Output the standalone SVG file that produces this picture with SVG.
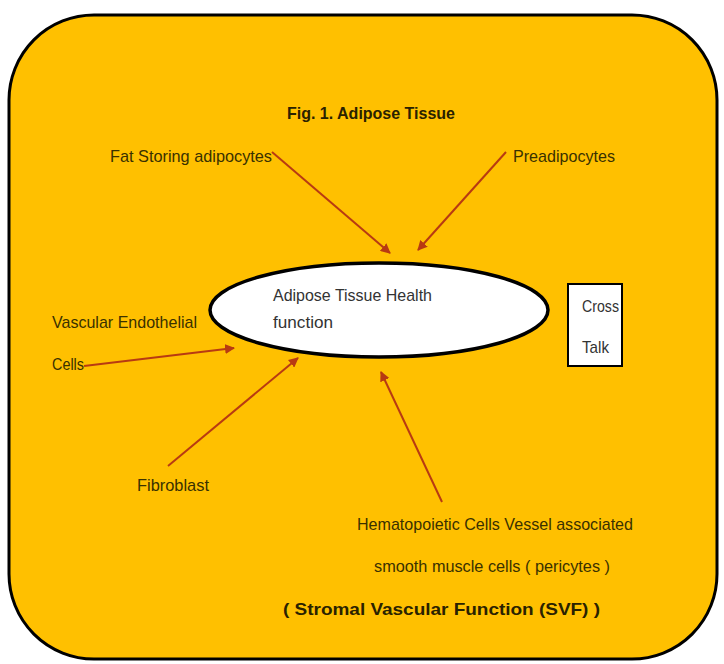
<svg xmlns="http://www.w3.org/2000/svg" width="724" height="664" viewBox="0 0 724 664">
<defs>
<marker id="ah" viewBox="0 0 10 10" refX="9" refY="5" markerWidth="5" markerHeight="5" orient="auto" markerUnits="strokeWidth">
<path d="M0,0 L10,5 L0,10 z" fill="#B83A12"/>
</marker>
<style>
.lbl{font-family:"Liberation Sans",Arial,sans-serif;font-size:17px;fill:#3a3100;}
.in{fill:#333333;}
.bold{font-weight:bold;fill:#2a2200;}
.conn line{stroke:#B83A12;stroke-width:2;marker-end:url(#ah);}
</style>
</defs>
<rect width="724" height="664" fill="#ffffff"/>
<g id="frame">
<rect x="9" y="15" width="708" height="644" rx="85" ry="85" fill="#FFC000" stroke="#000" stroke-width="3"/>
</g>
<g id="title">
<text class="lbl bold" x="287" y="119" font-size="19" textLength="168" lengthAdjust="spacingAndGlyphs">Fig. 1. Adipose Tissue</text>
</g>
<g class="conn" id="connectors">
<line x1="272" y1="152" x2="390" y2="253"/>
<line x1="506" y1="152" x2="418" y2="250"/>
<line x1="84" y1="366" x2="234" y2="348"/>
<line x1="168" y1="466" x2="298" y2="358"/>
<line x1="442" y1="502" x2="381" y2="372"/>
</g>
<g id="center">
<ellipse cx="379" cy="310" rx="169" ry="47" fill="#ffffff" stroke="#000" stroke-width="3.5"/>
<text class="lbl in" x="273" y="301" textLength="159" lengthAdjust="spacingAndGlyphs">Adipose Tissue Health</text>
<text class="lbl in" x="273" y="328" textLength="60" lengthAdjust="spacingAndGlyphs">function</text>
</g>
<g id="crosstalk">
<rect x="568" y="284" width="54" height="82" fill="#ffffff" stroke="#000" stroke-width="2"/>
<text class="lbl in" x="582" y="312" textLength="37" lengthAdjust="spacingAndGlyphs">Cross</text>
<text class="lbl in" x="582" y="353" textLength="27" lengthAdjust="spacingAndGlyphs">Talk</text>
</g>
<g id="fat">
<text class="lbl" x="110" y="162" textLength="162" lengthAdjust="spacingAndGlyphs">Fat Storing adipocytes</text>
</g>
<g id="pre">
<text class="lbl" x="513" y="162" textLength="102" lengthAdjust="spacingAndGlyphs">Preadipocytes</text>
</g>
<g id="vascular">
<text class="lbl" x="52" y="328" textLength="145" lengthAdjust="spacingAndGlyphs">Vascular Endothelial</text>
<text class="lbl" x="52" y="370" textLength="32" lengthAdjust="spacingAndGlyphs">Cells</text>
</g>
<g id="fibroblast">
<text class="lbl" x="137" y="491" textLength="72" lengthAdjust="spacingAndGlyphs">Fibroblast</text>
</g>
<g id="hematopoietic">
<text class="lbl" x="357" y="530" textLength="276" lengthAdjust="spacingAndGlyphs">Hematopoietic Cells Vessel associated</text>
<text class="lbl" x="374" y="572" textLength="236" lengthAdjust="spacingAndGlyphs">smooth muscle cells ( pericytes )</text>
</g>
<g id="svf">
<text class="lbl bold" x="283" y="615" font-size="22" textLength="317" lengthAdjust="spacingAndGlyphs">( Stromal Vascular Function (SVF) )</text>
</g>
</svg>
